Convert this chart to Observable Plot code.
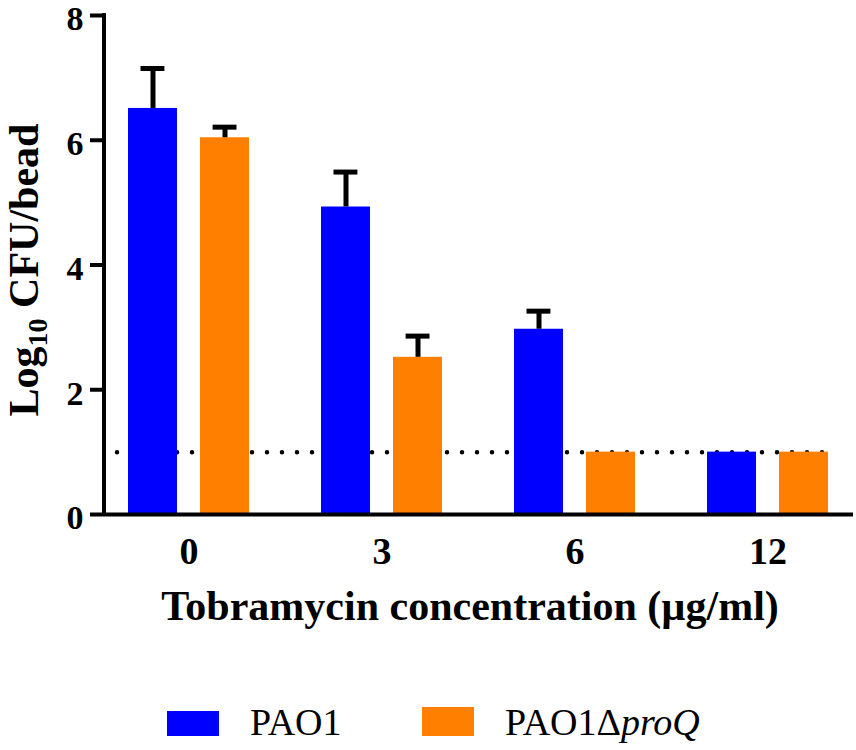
<!DOCTYPE html>
<html><head><meta charset="utf-8">
<script src="https://cdn.jsdelivr.net/npm/d3@7"></script>
<script src="https://cdn.jsdelivr.net/npm/@observablehq/plot@0.6"></script>
<style>
body{margin:0;background:#fff;}
#wrap{position:relative;width:856px;height:750px;font-family:"Liberation Serif","Times New Roman",serif;overflow:hidden;}
#wrap svg{display:block;}
.legend{position:absolute;top:690px;left:0;width:856px;height:60px;}
.sw{position:absolute;}
.lt{position:absolute;font-size:38px;line-height:1;color:#000;white-space:nowrap;}
</style></head><body><div id="wrap"></div>
<script>
const concentrations = ["0", "3", "6", "12"];
const strains = ["PAO1", "PAO1ΔproQ"];
const pao1Mean = [6.51, 4.93, 2.97, 1.0];
const pao1Err = [0.64, 0.56, 0.29, 0];
const proqMean = [6.04, 2.52, 1.0, 1.0];
const proqErr = [0.17, 0.34, 0, 0];
const yTicks = [0, 2, 4, 6, 8];
const detectionLimit = [1];
const colors = ["#0000ff", "#ff8000"];

const pao1 = concentrations.map((c, i) => ({conc: c, mean: pao1Mean[i], err: pao1Err[i]}));
const proq = concentrations.map((c, i) => ({conc: c, mean: proqMean[i], err: proqErr[i]}));

const plot = Plot.plot({
  width: 856,
  height: 690,
  marginLeft: 104,
  marginRight: 3,
  marginTop: 15,
  marginBottom: 176,
  style: {fontFamily: '"Liberation Serif","Times New Roman",serif', background: "#fff", color: "#000"},
  x: {type: "band", domain: concentrations, paddingInner: 0.3, paddingOuter: 0.09},
  y: {domain: [0, 8]},
  marks: [
    Plot.ruleY(detectionLimit, {stroke: "#000", strokeWidth: 4.5, strokeDasharray: "0,15", strokeLinecap: "round", insetLeft: 13, insetRight: 16}),
    Plot.barY(pao1, {x: "conc", y: "mean", fill: colors[0], insetLeft: 7, insetRight: 79}),
    Plot.barY(proq, {x: "conc", y: "mean", fill: colors[1], insetLeft: 79, insetRight: 7}),
    Plot.ruleX(pao1.filter(d => d.err > 0), {x: "conc", y1: "mean", y2: d => d.mean + d.err, stroke: "#000", strokeWidth: 5, dx: -36}),
    Plot.ruleX(proq.filter(d => d.err > 0), {x: "conc", y1: "mean", y2: d => d.mean + d.err, stroke: "#000", strokeWidth: 5, dx: 36}),
    Plot.tickY(pao1.filter(d => d.err > 0), {x: "conc", y: d => d.mean + d.err, stroke: "#000", strokeWidth: 5, insetLeft: 19.5, insetRight: 91.6}),
    Plot.tickY(proq.filter(d => d.err > 0), {x: "conc", y: d => d.mean + d.err, stroke: "#000", strokeWidth: 5, insetLeft: 91.6, insetRight: 19.5}),
    Plot.ruleY([0], {stroke: "#000", strokeWidth: 4}),
    Plot.axisY(yTicks, {tickSize: 14, strokeWidth: 4, tickFormat: () => "", label: null}),
    Plot.axisY(yTicks, {tickSize: 0, tickPadding: 21, fontSize: 34, fontWeight: "bold", label: null, fill: "#000", tickFormat: d3.format("d"), dy: 4}),
    Plot.axisX({tickSize: 0, tickPadding: 23, fontSize: 38, fontWeight: "bold", label: null, fill: "#000"})
  ]
});

const wrap = document.getElementById("wrap");
wrap.appendChild(plot);

const svg = d3.select(plot);
const y = plot.scale("y");
// y axis line
svg.append("line")
  .attr("x1", 104).attr("x2", 104)
  .attr("y1", y.apply(8) - 2).attr("y2", y.apply(0) + 2)
  .attr("stroke", "#000").attr("stroke-width", 4);

// x axis title
svg.append("text")
  .attr("x", 470).attr("y", 620)
  .attr("text-anchor", "middle")
  .attr("font-size", 42).attr("font-weight", "bold").attr("fill", "#000")
  .text("Tobramycin concentration (µg/ml)");

// y axis title
const yt = svg.append("text")
  .attr("transform", "translate(38,270) rotate(-90)")
  .attr("text-anchor", "middle")
  .attr("font-size", 42).attr("font-weight", "bold").attr("fill", "#000");
yt.append("tspan").text("Log");
yt.append("tspan").attr("font-size", 28).attr("dy", 9).text("10");
yt.append("tspan").attr("dy", -9).text(" CFU/bead");

// legend
const leg = document.createElement("div");
leg.className = "legend";
leg.innerHTML =
  `<div class="sw" style="left:167px;top:21px;width:52px;height:25px;background:${colors[0]}"></div>` +
  `<div class="lt" style="left:250px;top:13px;">${strains[0]}</div>` +
  `<div class="sw" style="left:422px;top:17px;width:52px;height:29px;background:${colors[1]}"></div>` +
  `<div class="lt" style="left:505px;top:13px;">PAO1Δ<i>proQ</i></div>`;
wrap.appendChild(leg);
</script>
</body></html>
